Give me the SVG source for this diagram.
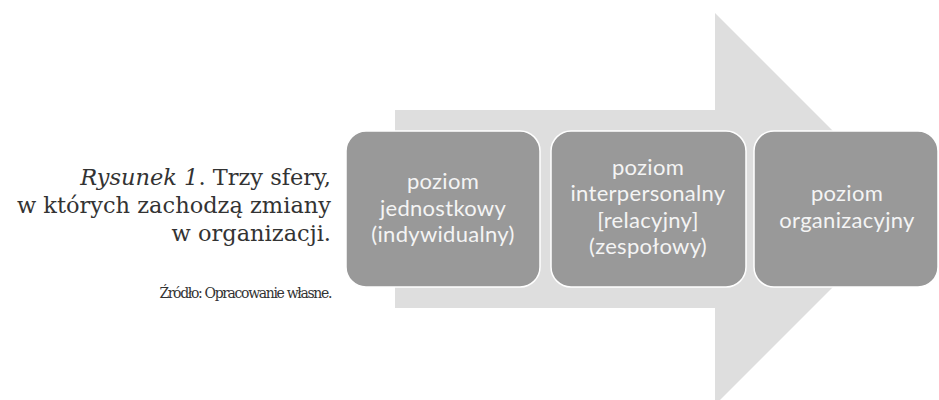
<svg xmlns="http://www.w3.org/2000/svg" width="939" height="400" viewBox="0 0 939 400">
<style>
.cap{font-family:"DejaVu Serif","Liberation Serif",serif;font-size:22.5px;fill:#333;text-anchor:end}
.src{font-family:"DejaVu Serif","Liberation Serif",serif;font-size:14px;fill:#333;text-anchor:end;letter-spacing:-1.35px}
.box{fill:#999999;stroke:#ffffff;stroke-width:1.5}
.lbl{font-family:Lato,"Open Sans","Liberation Sans",sans-serif;font-size:22px;letter-spacing:0.3px;fill:#f4f4f4;text-anchor:middle}
</style>
<rect width="939" height="400" fill="#ffffff"/>
<g id="caption">
<text class="cap" x="331" y="185"><tspan font-style="italic">Rysunek 1</tspan>. Trzy sfery,</text>
<text class="cap" x="331" y="213">w których zachodzą zmiany</text>
<text class="cap" x="331" y="241">w organizacji.</text>
<text class="src" x="331" y="298">Źródło: Opracowanie własne.</text>
</g>
<g id="arrow">
<polygon points="395,110 715,110 715,13 911,209 715,405 715,308 395,308" fill="#dedede"/>
</g>
<g id="node1">
<rect class="box" x="346" y="131" width="194" height="156" rx="20"/>
<text class="lbl" x="443" y="189">poziom</text>
<text class="lbl" x="443" y="215.5">jednostkowy</text>
<text class="lbl" x="443" y="242">(indywidualny)</text>
</g>
<g id="node2">
<rect class="box" x="551" y="131" width="195" height="156" rx="20"/>
<text class="lbl" x="648" y="174.5">poziom</text>
<text class="lbl" x="648" y="201">interpersonalny</text>
<text class="lbl" x="648" y="227.5">[relacyjny]</text>
<text class="lbl" x="648" y="254">(zespołowy)</text>
</g>
<g id="node3">
<rect class="box" x="754" y="131" width="184" height="156" rx="20"/>
<text class="lbl" x="847" y="201">poziom</text>
<text class="lbl" x="847" y="227.5">organizacyjny</text>
</g>
</svg>
